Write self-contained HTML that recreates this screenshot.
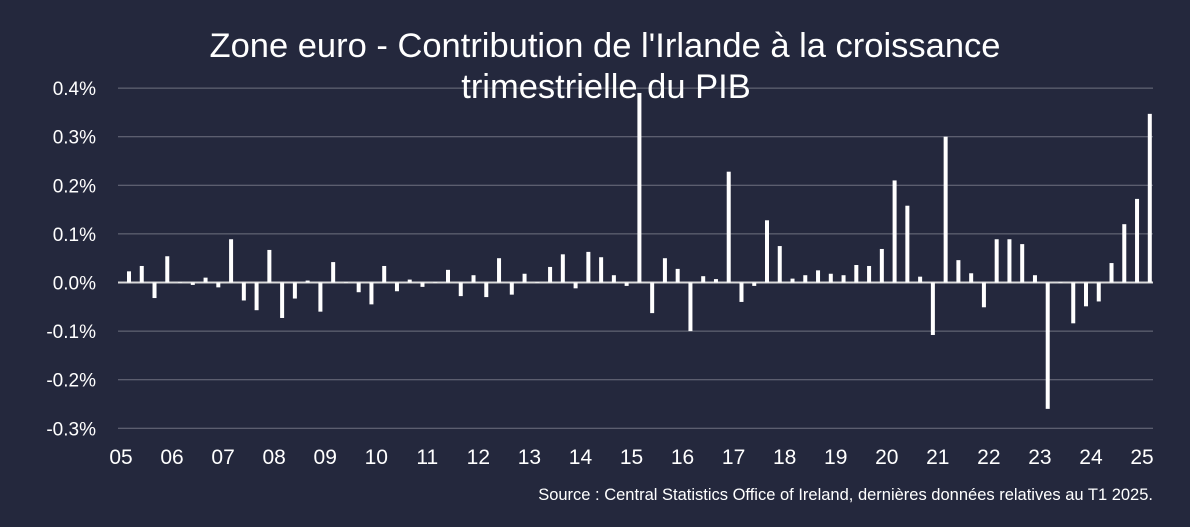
<!DOCTYPE html>
<html><head><meta charset="utf-8"><style>
html,body{margin:0;padding:0;background:#24283d;}
svg{display:block;font-family:"Liberation Sans","DejaVu Sans",sans-serif;}
</style></head><body>
<svg id="chart" width="1190" height="527">
<rect width="1190" height="527" fill="#24283d"/>
<g id="grid"></g><g id="bars"></g><g id="labels"></g>
<text x="605" y="57" fill="#fff" font-size="34.5" text-anchor="middle">Zone euro - Contribution de l'Irlande à la croissance</text>
<text x="606" y="98" fill="#fff" font-size="34.5" text-anchor="middle">trimestrielle du PIB</text>
<text x="1153" y="500" fill="#fff" font-size="16.5" text-anchor="end">Source : Central Statistics Office of Ireland, dernières données relatives au T1 2025.</text>
</svg>
<script>
const yTicks=[0.4,0.3,0.2,0.1,0.0,-0.1,-0.2,-0.3];
const yTickLabels=["0.4%","0.3%","0.2%","0.1%","0.0%","-0.1%","-0.2%","-0.3%"];
const xYearLabels=["05","06","07","08","09","10","11","12","13","14","15","16","17","18","19","20","21","22","23","24","25"];
const values=[0.023,0.034,-0.032,0.054,0.0,-0.005,0.01,-0.01,0.089,-0.037,-0.057,0.067,-0.073,-0.033,0.004,-0.06,0.042,0.0,-0.02,-0.045,0.034,-0.018,0.006,-0.009,0.0,0.026,-0.028,0.015,-0.03,0.05,-0.025,0.018,0.0,0.032,0.058,-0.012,0.063,0.052,0.015,-0.007,0.39,-0.063,0.05,0.028,-0.1,0.013,0.007,0.228,-0.04,-0.007,0.128,0.075,0.008,0.015,0.025,0.018,0.015,0.036,0.034,0.069,0.21,0.158,0.012,-0.108,0.3,0.046,0.019,-0.051,0.089,0.089,0.079,0.015,-0.26,0.0,-0.084,-0.049,-0.039,0.04,0.12,0.172,0.347];
const NS="http://www.w3.org/2000/svg";
const y=v=>282.5-v*486;
const x=i=>129+i*12.76;
const grid=document.getElementById('grid'),bars=document.getElementById('bars'),labels=document.getElementById('labels');
yTicks.forEach((t,k)=>{
 const l=document.createElementNS(NS,'line');
 l.setAttribute('x1',118);l.setAttribute('x2',1153);l.setAttribute('y1',y(t));l.setAttribute('y2',y(t));
 l.setAttribute('stroke',t===0?'#d9d9d9':'#6e7180');l.setAttribute('stroke-width',t===0?2:1);
 
 
 grid.appendChild(l);
 const tx=document.createElementNS(NS,'text');
 tx.setAttribute('x',96);tx.setAttribute('y',y(t)+7);tx.setAttribute('fill','#fff');tx.setAttribute('font-size','19');tx.setAttribute('text-anchor','end');
 tx.textContent=yTickLabels[k];
 
 
 labels.appendChild(tx);
});
values.forEach((v,i)=>{
 const r=document.createElementNS(NS,'rect');
 const y0=y(0),y1=y(v);
 r.setAttribute('x',x(i)-2);r.setAttribute('width',4);
 r.setAttribute('y',Math.min(y0,y1));r.setAttribute('height',Math.max(Math.abs(y1-y0),0.5));
 r.setAttribute('fill','#fff');
 
 
 bars.appendChild(r);
});
xYearLabels.forEach((s,k)=>{
 const tx=document.createElementNS(NS,'text');
 tx.setAttribute('x',121+k*51.05);tx.setAttribute('y',464);tx.setAttribute('fill','#fff');tx.setAttribute('font-size','21');tx.setAttribute('text-anchor','middle');
 tx.textContent=s;
 
 
 labels.appendChild(tx);
});
</script>
</body></html>
